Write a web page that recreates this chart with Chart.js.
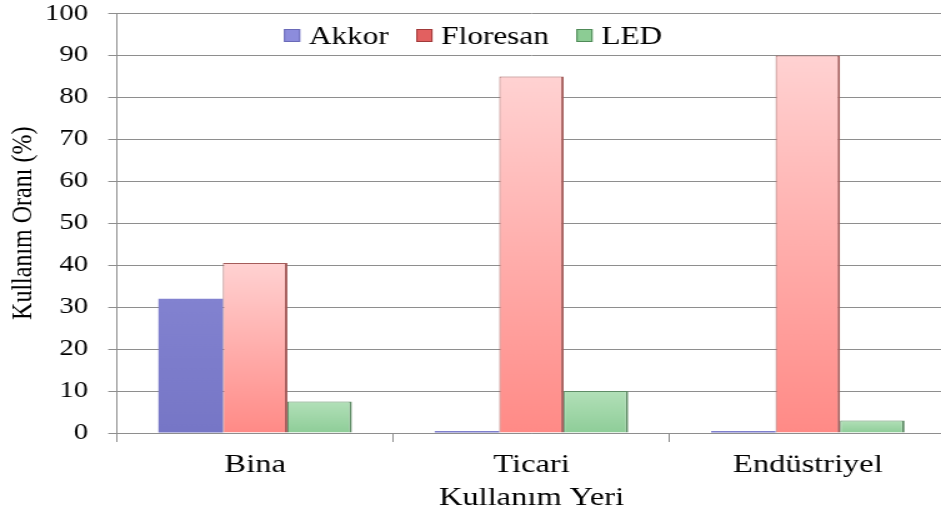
<!DOCTYPE html>
<html>
<head>
<meta charset="utf-8">
<script src="https://cdn.jsdelivr.net/npm/chart.js@4.4.0/dist/chart.umd.min.js"></script>
<style>
  html, body { margin: 0; padding: 0; overflow: hidden; background: #fff; }
</style>
</head>
<body>
<canvas id="chartKullanim" width="757" height="515" style="width:946px;height:515px;display:block"></canvas>
<script>
const kategoriler = ['Bina', 'Ticari', 'Endüstriyel'];
const akkor = [32, 0.5, 0.5];
const floresan = [40.5, 85, 90];
const led = [7.5, 10, 3];
const yMin = 0;
const yMax = 100;
const yAdim = 10;

const yazi = '"Liberation Serif", "Times New Roman", serif';
const gri = '#8e8e8e';

// bar icin ustten alta renk gecisi
function dolgu(ust, alt) {
  return function (c) {
    const chart = c.chart;
    if (!chart.chartArea || c.type !== 'data') return alt;
    const y = chart.scales.y;
    const top = y.getPixelForValue(c.raw);
    const bottom = y.getPixelForValue(0);
    if (bottom - top < 2) return alt;
    const g = chart.ctx.createLinearGradient(0, top, 0, bottom);
    g.addColorStop(0, ust);
    g.addColorStop(1, alt);
    return g;
  };
}

// lejant grafik alaninin icinde, ortada
const ustLejant = {
  id: 'ustLejant',
  afterDraw(chart) {
    const ctx = chart.ctx;
    ctx.save();
    ctx.font = '25px ' + yazi;
    ctx.textBaseline = 'alphabetic';
    const kutu = 13, bosluk = 7, ara = 22;
    const items = chart.data.datasets.map(ds => ({
      label: ds.label,
      w: ctx.measureText(ds.label).width,
      renk: ds.lejantRenk,
      kenar: ds.lejantKenar
    }));
    const toplam = items.reduce((s, it) => s + kutu + bosluk + it.w, 0) + ara * (items.length - 1);
    let x = chart.width / 2 - toplam / 2;
    items.forEach(it => {
      ctx.fillStyle = it.renk;
      ctx.fillRect(x, 29, kutu, kutu);
      ctx.strokeStyle = it.kenar;
      ctx.lineWidth = 1;
      ctx.strokeRect(x + 0.5, 29.5, kutu - 1, kutu - 1);
      ctx.fillStyle = '#000';
      ctx.fillText(it.label, x + kutu + bosluk, 44);
      x += kutu + bosluk + it.w + ara;
    });
    ctx.restore();
  }
};

const ctx = document.getElementById('chartKullanim');
let grafico = new Chart(ctx, {
  type: 'bar',
  data: {
    labels: kategoriler,
    datasets: [
      {
        label: 'Akkor',
        data: akkor,
        backgroundColor: dolgu('#8282d0', '#7676c6'),
        borderWidth: 0,
        lejantRenk: '#8c8cdc',
        lejantKenar: '#6a6ab8'
      },
      {
        label: 'Floresan',
        data: floresan,
        backgroundColor: dolgu('#ffd2d2', '#ff8a86'),
        borderColor: '#a45c5a',
        borderWidth: { left: 1, right: 2, top: 1, bottom: 0 },
        lejantRenk: '#e26060',
        lejantKenar: '#a03a3a'
      },
      {
        label: 'LED',
        data: led,
        backgroundColor: dolgu('#b2e0b8', '#8ecd98'),
        borderColor: '#5f8c66',
        borderWidth: { left: 1, right: 2, top: 1, bottom: 0 },
        lejantRenk: '#8ccc94',
        lejantKenar: '#4f8a58'
      }
    ]
  },
  options: {
    responsive: false,
    animation: false,
    devicePixelRatio: 1,
    layout: { padding: { top: 2, left: 0, right: 0, bottom: 0 } },
    datasets: {
      bar: { categoryPercentage: 0.7, barPercentage: 1.0 }
    },
    plugins: {
      legend: { display: false },
      tooltip: { enabled: false }
    },
    scales: {
      x: {
        grid: { drawOnChartArea: false, tickLength: 9, color: gri },
        border: { color: gri },
        ticks: { color: '#000', font: { family: yazi, size: 26 }, padding: 8 },
        title: {
          display: true,
          text: 'Kullanım Yeri',
          color: '#000',
          font: { family: yazi, size: 26 },
          padding: { top: 0, bottom: 1 }
        },
        afterFit(s) { s.height = 82; }
      },
      y: {
        min: yMin,
        max: yMax,
        grid: { color: gri, tickLength: 7 },
        border: { color: gri },
        ticks: { stepSize: yAdim, color: '#000', font: { family: yazi, size: 23 }, padding: 16 },
        title: {
          display: true,
          text: 'Kullanım Oranı (%)',
          color: '#000',
          font: { family: yazi, size: 24 },
          padding: { top: 4, bottom: 0 }
        },
        afterFit(s) {
          s.width = 93.6;
          s.paddingTop = 13.5;
        }
      }
    }
  },
  plugins: [ustLejant]
});
</script>
</body>
</html>
